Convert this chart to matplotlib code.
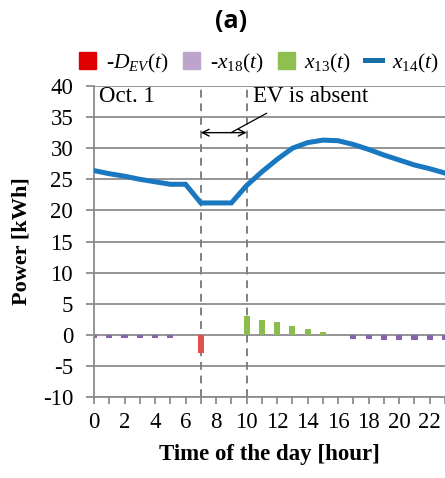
import matplotlib
matplotlib.use("Agg")
import matplotlib.pyplot as plt
import numpy as np
from matplotlib.patches import Patch
from matplotlib.lines import Line2D

hours = list(range(24))
x14 = [26.4, 25.9, 25.5, 25.0, 24.6, 24.2, 24.2, 21.2, 21.2, 21.2, 24.0, 26.2,
       28.2, 30.0, 30.9, 31.3, 31.2, 30.6, 29.8, 28.9, 28.1, 27.3, 26.7, 26.0]
x13 = [0, 0, 0, 0, 0, 0, 0, 0, 0, 0, 3.0, 2.4, 2.0, 1.45, 0.92, 0.4,
       0, 0, 0, 0, 0, 0, 0, 0]
neg_x18 = [-0.5, -0.5, -0.5, -0.5, -0.5, -0.5, 0, 0, 0, 0, 0, 0, 0, 0, 0, 0,
           -0.1, -0.6, -0.7, -0.85, -0.85, -0.85, -0.8, -0.8]
neg_dev = [0, 0, 0, 0, 0, 0, 0, -3.0, 0, 0, 0, 0, 0, 0, 0, 0,
           0, 0, 0, 0, 0, 0, 0, 0]
ev_absent = (7, 10)
yticks = list(range(-10, 41, 5))
xticks = list(range(0, 23, 2))

plt.rcParams['font.family'] = ['Liberation Serif', 'DejaVu Serif']
plt.rcParams['mathtext.fontset'] = 'custom'
plt.rcParams['mathtext.rm'] = 'Liberation Serif'
plt.rcParams['mathtext.it'] = 'Liberation Serif:italic'

W, H = 445, 478
fig = plt.figure(figsize=(W / 100, H / 100), dpi=100)
ax = fig.add_axes([94 / W, 1 - 397 / H, (445 - 94) / W, (397 - 86) / H])

gcol = '#8c8c8c'
for v in yticks:
    ax.axhline(v, color=gcol, lw=1.3, zorder=0)

bw = 0.4
ax.bar(hours, neg_dev, width=bw, color='#e0504d', zorder=2)
ax.bar(hours, neg_x18, width=bw, color='#8b63ad', zorder=2)
ax.bar(hours, x13, width=bw, color='#8cbd4c', zorder=2)
ax.plot(hours, x14, color='#1a78c0', lw=3.6, zorder=3, solid_joinstyle='miter')

for xv in ev_absent:
    ax.axvline(xv, color='#808080', lw=1.4, ls=(0, (4, 3)), zorder=1)

ax.set_xlim(0, (445 - 94) / 15.33)
ax.set_ylim(-10, 40)
ax.set_yticks(yticks)
ax.set_yticklabels([str(v) for v in yticks])
ax.set_xticks(xticks)
ax.set_xticklabels([str(v) for v in xticks])
ax.set_xticks(hours, minor=True)
for s in ['top', 'right']:
    ax.spines[s].set_visible(False)
for s in ['left', 'bottom']:
    ax.spines[s].set_color(gcol)
    ax.spines[s].set_linewidth(1.3)
ax.tick_params(axis='both', which='both', color=gcol, width=1.3, labelsize=16.5,
               direction='out')
ax.tick_params(axis='y', length=6, pad=9)
ax.tick_params(axis='x', which='both', length=5, pad=6)

ax.set_ylabel('Power [kWh]', fontsize=16, fontweight='bold', labelpad=8)
ax.set_xlabel('Time of the day [hour]', fontsize=16.5, fontweight='bold', labelpad=8)

ax.text(0.35, 38.3, 'Oct. 1', fontsize=16.5, va='center', ha='left')
ax.text(10.4, 38.3, 'EV is absent', fontsize=16.5, va='center', ha='left')
ax.annotate('', xy=(7, 32.5), xytext=(10, 32.5),
            arrowprops=dict(arrowstyle='<->', color='black', lw=1, mutation_scale=12,
                            shrinkA=0, shrinkB=0))
ax.plot([8.98, 11.3], [32.5, 35.6], color='black', lw=0.9, zorder=4)

fig.text(231 / W, 1 - 22 / H, '(a)', fontsize=18, fontweight='bold',
         family=['Open Sans', 'DejaVu Sans'], ha='center', va='center')

handles = [Patch(color='#e00000'), Patch(color='#bca4cc'), Patch(color='#8fbf4f'),
           Line2D([0], [0], color='#1a6ea8', lw=3.6)]
labels = ['-$D_{EV}(t)$', '-$x_{18}(t)$', '$x_{13}(t)$', '$x_{14}(t)$']
fig.legend(handles, labels, loc='center', bbox_to_anchor=(259 / W, 1 - 63 / H),
           ncol=4, frameon=False, fontsize=15.5, handlelength=0.8, handleheight=0.8,
           handletextpad=0.45, columnspacing=0.65, borderaxespad=0)

fig.savefig('out.png', dpi=100)
